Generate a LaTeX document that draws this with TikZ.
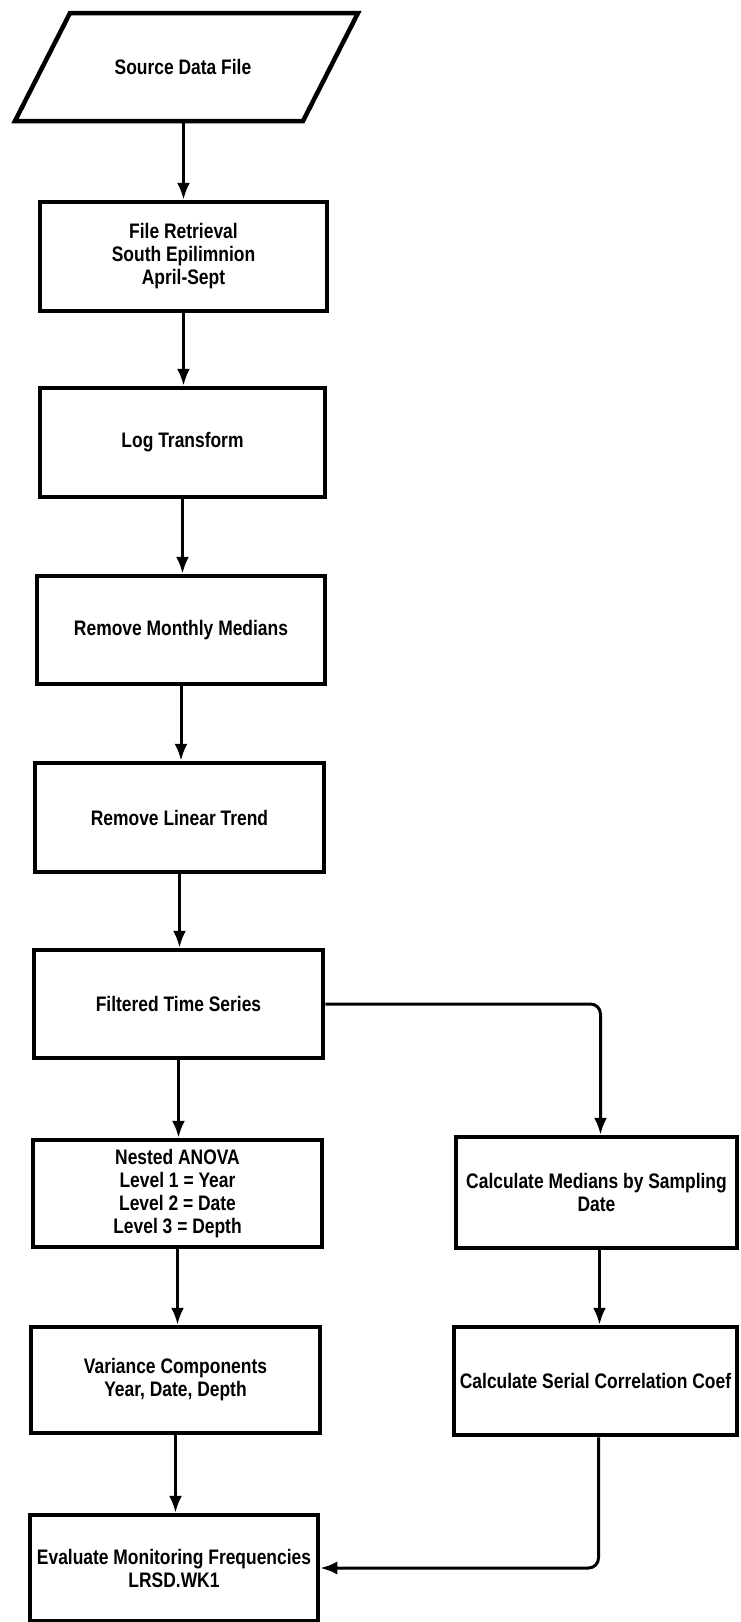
\documentclass[tikz,border=0pt]{standalone}
\usepackage{fontspec}
\setmainfont{Liberation Sans}[FakeStretch=0.83]
\usetikzlibrary{arrows.meta}
\begin{document}
\begin{tikzpicture}[x=1pt,y=-1pt,
  box/.style={draw, line width=4.5pt, align=center, inner sep=0pt,
    font=\fontsize{21}{23}\selectfont\bfseries},
  lbl/.style={align=center, inner sep=0pt,
    font=\fontsize{21}{23}\selectfont\bfseries},
  arr/.style={line width=3pt, -{Latex[length=17pt,width=13pt]}}]
\useasboundingbox (0,0) rectangle (740,1622);
% source data file (parallelogram)
\draw[line width=4.5pt, line join=miter] (70,13) -- (358,13) -- (303,121) -- (15,121) -- cycle;
\node[lbl, minimum width=288pt, minimum height=108pt] (src) at (183,67) {Source Data File};
\node[box, minimum width=287pt, minimum height=109pt] (fr) at (183.5,256.5) {File Retrieval\\South Epilimnion\\April-Sept};
\node[box, minimum width=285pt, minimum height=109pt] (lt) at (182.5,442.5) {Log Transform};
\node[box, minimum width=288pt, minimum height=108pt] (rmm) at (181,630) {Remove Monthly Medians};
\node[box, minimum width=289pt, minimum height=109pt] (rlt) at (179.5,817.5) {Remove Linear Trend};
\node[box, minimum width=289pt, minimum height=108pt] (fts) at (178.5,1004) {Filtered Time Series};
\node[box, minimum width=289pt, minimum height=107pt] (anova) at (177.5,1193.5) {Nested ANOVA\\Level 1 = Year\\Level 2 = Date\\Level 3 = Depth};
\node[box, minimum width=281pt, minimum height=111pt] (cm) at (596.5,1192.5) {Calculate Medians by Sampling\\Date};
\node[box, minimum width=283pt, minimum height=108pt] (sc) at (595.5,1381) {Calculate Serial Correlation Coef};
\node[box, minimum width=289pt, minimum height=106pt] (var) at (175.5,1380) {Variance Components\\Year, Date, Depth};
\node[box, minimum width=288pt, minimum height=106pt] (ev) at (174,1568) {Evaluate Monitoring Frequencies\\LRSD.WK1};
% connectors
\draw[arr] (fr.north |- src.south) -- (fr.north);
\draw[arr] (fr.south) -- (fr.south |- lt.north);
\draw[arr] (lt.south) -- (lt.south |- rmm.north);
\draw[arr] (rmm.south) -- (rmm.south |- rlt.north);
\draw[arr] (rlt.south) -- (rlt.south |- fts.north);
\draw[arr] (fts.south) -- (fts.south |- anova.north);
\draw[arr] (anova.south) -- (anova.south |- var.north);
\draw[arr] (var.south) -- (var.south |- ev.north);
\draw[arr, rounded corners=10pt] (fts.east) -- ([xshift=4pt]cm.north |- fts.east) -- ([xshift=4pt]cm.north);
\draw[arr] ([xshift=3pt]cm.south) -- ([xshift=3pt]cm.south |- sc.north);
\draw[arr, rounded corners=10pt] ([xshift=3pt]sc.south) |- (ev.east);
\end{tikzpicture}
\end{document}
